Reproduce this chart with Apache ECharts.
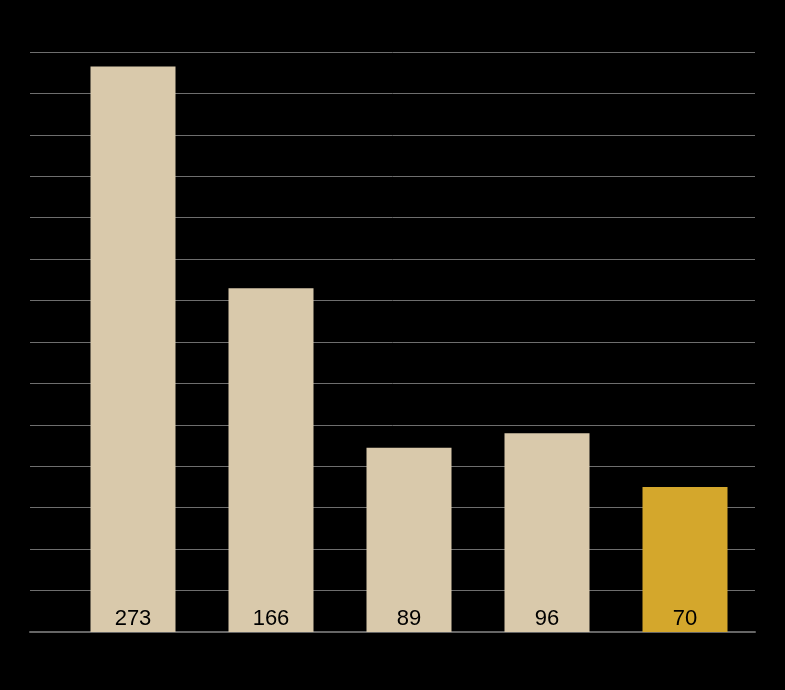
<!DOCTYPE html>
<html>
<head>
<meta charset="utf-8">
<script src="https://cdn.jsdelivr.net/npm/echarts@6/dist/echarts.min.js"></script>
<style>
  html, body { margin: 0; padding: 0; background: #000; }
  #chart { width: 785px; height: 690px; }
</style>
</head>
<body>
<div id="chart"></div>
<script>
// 数据
const categories = ['1', '2', '3', '4', '5']
const values = [273, 166, 89, 96, 70]
const highlightIndex = 4

const yMax = 280
const yStep = 20

const chart = echarts.init(document.getElementById('chart'))

chart.setOption({
  backgroundColor: '#000',
  animation: false,
  grid: [
    // 网格线用
    { left: 30, right: 30, top: 52, bottom: 58 },
    // 柱子用
    { left: 64, right: 31, top: 52, bottom: 58 }
  ],
  xAxis: [
    {
      gridIndex: 0,
      type: 'value',
      min: 0,
      max: 1,
      axisLine: { show: true, onZero: false, lineStyle: { color: '#666', width: 2 } },
      axisTick: { show: false },
      axisLabel: { show: false },
      splitLine: { show: false }
    },
    {
      gridIndex: 1,
      type: 'category',
      data: categories,
      axisLine: { show: false },
      axisTick: { show: false },
      axisLabel: { show: false }
    }
  ],
  yAxis: [
    {
      gridIndex: 0,
      type: 'value',
      min: 0,
      max: yMax,
      interval: yStep,
      axisLine: { show: false },
      axisTick: { show: false },
      axisLabel: { show: false },
      splitLine: { lineStyle: { color: '#6e6e6e', width: 1 } }
    },
    {
      gridIndex: 1,
      type: 'value',
      min: 0,
      max: yMax,
      interval: yStep,
      axisLine: { show: false },
      axisTick: { show: false },
      axisLabel: { show: false },
      splitLine: { show: false }
    }
  ],
  series: [{
    type: 'bar',
    xAxisIndex: 1,
    yAxisIndex: 1,
    barWidth: 85,
    data: values.map((v, i) => ({
      value: v,
      itemStyle: { color: i === highlightIndex ? '#d4a72c' : '#d9c9ab' }
    })),
    label: {
      show: true,
      position: 'insideBottom',
      distance: 2,
      color: '#000',
      fontSize: 22,
      fontFamily: 'Liberation Sans, Arial, sans-serif'
    }
  }]
})
</script>
</body>
</html>
